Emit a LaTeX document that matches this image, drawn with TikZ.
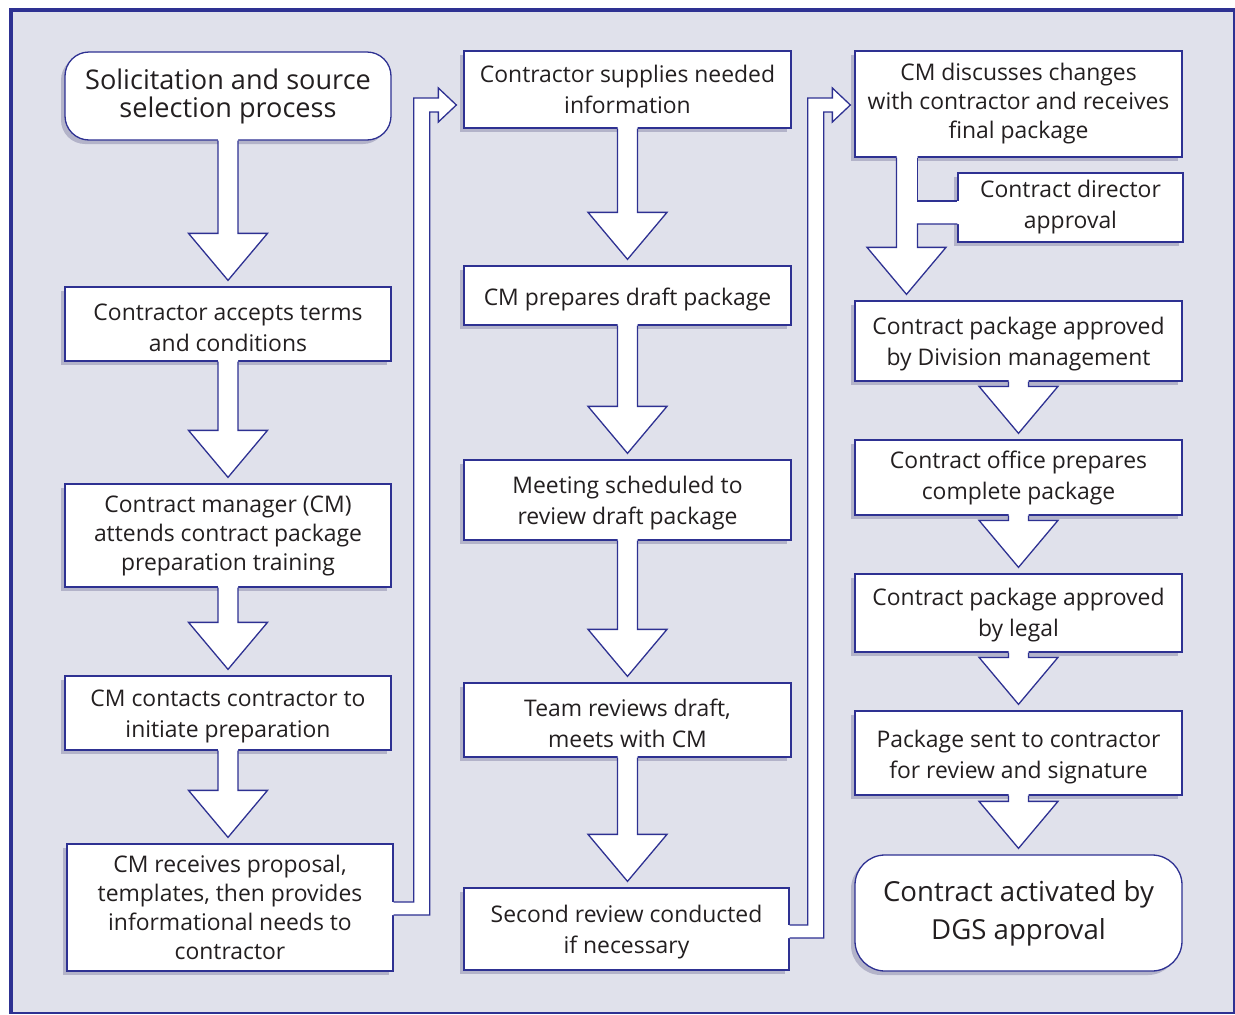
\documentclass[tikz,border=0pt]{standalone}
\usepackage{fontspec}
\setmainfont{Open Sans}
\usetikzlibrary{calc,shadows}
\definecolor{bgc}{HTML}{E0E1EB}
\definecolor{lineb}{HTML}{2E3192}
\definecolor{shadowc}{HTML}{B3B3C9}
\definecolor{txtc}{HTML}{231F20}
\pgfdeclarelayer{bgl}
\pgfdeclarelayer{shadow}
\pgfsetlayers{bgl,shadow,main}
\newcommand\boxstrut[1]{\rule{0pt}{#1}}
\tikzset{
  box/.style={draw=lineb, fill=white, line width=1.3pt, inner sep=2pt, align=center,
    text=txtc, font=\fontsize{22.9}{31}\selectfont,
    drop shadow={shadow xshift=-4pt, shadow yshift=-4pt, fill=shadowc, opacity=1}},
  tightbox/.style={box, font=\fontsize{22.9}{29}\selectfont},
  startbox/.style={box, rounded corners=24pt, font=\fontsize{27.1}{28}\selectfont},
  endbox/.style={box, rounded corners=30pt, font=\fontsize{27.6}{38}\selectfont},
  arrowline/.style={draw=lineb, line width=1.3pt},
}
\newcommand\downflow[2]{%
  \begin{pgfonlayer}{shadow}
    \fill[shadowc,shift={(-4,-4)}] let \p1=(#1.south), \p2=(#2.north) in
      (\x1-10,\y1) -- (\x1-10,\y2+53) -- (\x1-39.5,\y2+53) -- (\x1,\y2+6)
      -- (\x1+39.5,\y2+53) -- (\x1+10,\y2+53) -- (\x1+10,\y1) -- cycle;
  \end{pgfonlayer}
  \fill[white] let \p1=(#1.south), \p2=(#2.north) in
      (\x1-10,\y1+1.5) -- (\x1-10,\y2+53) -- (\x1-39.5,\y2+53) -- (\x1,\y2+6)
      -- (\x1+39.5,\y2+53) -- (\x1+10,\y2+53) -- (\x1+10,\y1+1.5) -- cycle;
  \draw[arrowline] let \p1=(#1.south), \p2=(#2.north) in
      (\x1-10,\y1) -- (\x1-10,\y2+53) -- (\x1-39.5,\y2+53) -- (\x1,\y2+6)
      -- (\x1+39.5,\y2+53) -- (\x1+10,\y2+53) -- (\x1+10,\y1);
}
\begin{document}
\begin{tikzpicture}[x=1pt,y=1pt]
\useasboundingbox (0,0) rectangle (1235,-1015);
\begin{pgfonlayer}{bgl}
  \fill[white] (0,0) rectangle (1235,-1015);
  \fill[bgc] (10,-9) rectangle (1234,-1013);
\end{pgfonlayer}
\draw[lineb, line width=2pt] (10,-9) rectangle (1234,-1013);
\draw[lineb, line width=2pt] (12,-9) -- (12,-1013);
\draw[lineb, line width=2pt] (10,-11) -- (1234,-11);

% column 1
\node[startbox, minimum width=326pt, minimum height=88pt] (s1) at (228,-96) {Solicitation and source\\selection process};
\node[box, minimum width=326pt, minimum height=74pt] (b2) at (228,-324) {\boxstrut{24.5pt}Contractor accepts terms\\and conditions};
\node[tightbox, minimum width=326pt, minimum height=103pt] (b3) at (228,-535.5) {Contract manager (CM)\\attends contract package\\preparation training};
\node[box, minimum width=326pt, minimum height=74pt] (b4) at (228,-713) {\boxstrut{22.7pt}CM contacts contractor to\\initiate preparation};
\node[tightbox, minimum width=326pt, minimum height=127pt] (b5) at (230,-907.5) {CM receives proposal,\\templates, then provides\\informational needs to\\contractor};
% column 2
\node[box, minimum width=327pt, minimum height=77pt] (c1) at (627.5,-89.5) {Contractor supplies needed\\information};
\node[box, minimum width=327pt, minimum height=59pt] (c2) at (627.5,-295.5) {\boxstrut{25.4pt}CM prepares draft package};
\node[box, minimum width=327pt, minimum height=80pt] (c3) at (627.5,-500) {\boxstrut{23.4pt}Meeting scheduled to\\review draft package};
\node[box, minimum width=327pt, minimum height=74pt] (c4) at (627.5,-720) {\boxstrut{23.4pt}Team reviews draft,\\meets with CM};
\node[box, minimum width=325pt, minimum height=82pt] (c5) at (626.5,-929) {\boxstrut{23.4pt}Second review conducted\\if necessary};
% column 3
\node[tightbox, minimum width=327pt, minimum height=106pt] (d1) at (1018.5,-104) {CM discusses changes\\with contractor and receives\\final package};
\node[box, minimum width=225pt, minimum height=69pt] (dd) at (1070.5,-207.5) {Contract director\\approval};
\node[box, minimum width=327pt, minimum height=80pt] (d2) at (1018.5,-341) {\boxstrut{24.4pt}Contract package approved\\by Division management};
\node[box, minimum width=327pt, minimum height=75pt] (d3) at (1018.5,-477.5) {Contract office prepares\\complete package};
\node[box, minimum width=327pt, minimum height=78pt] (d4) at (1018.5,-613) {\boxstrut{21.4pt}Contract package approved\\by legal};
\node[box, minimum width=327pt, minimum height=84pt] (d5) at (1018.5,-753) {\boxstrut{25.4pt}Package sent to contractor\\for review and signature};
\node[endbox, minimum width=327pt, minimum height=116pt] (d6) at (1018.5,-913) {Contract activated by\\DGS approval};

% straight block arrows
\downflow{s1}{b2}
\downflow{b2}{b3}
\downflow{b3}{b4}
\downflow{b4}{b5}
\downflow{c1}{c2}
\downflow{c2}{c3}
\downflow{c3}{c4}
\downflow{c4}{c5}
\downflow{d2}{d3}
\downflow{d3}{d4}
\downflow{d4}{d5}
\downflow{d5}{d6}

% arrow d1 -> d2 with branch to director approval
\begin{pgfonlayer}{shadow}
\fill[shadowc,shift={(-4,-4)}] let \p1=(d1.south), \p2=(d2.north), \p3=(dd.west) in
  (\x1-122,\y1) -- (\x1-122,\y2+53) -- (\x1-151.5,\y2+53) -- (\x1-112,\y2+6)
  -- (\x1-72.5,\y2+53) -- (\x1-101,\y2+53) -- (\x1-101,\y3-16.5) -- (\x3,\y3-16.5)
  -- (\x3,\y3+6.5) -- (\x1-101,\y3+6.5) -- (\x1-101,\y1) -- cycle;
\end{pgfonlayer}
\fill[white] let \p1=(d1.south), \p2=(d2.north), \p3=(dd.west) in
  (\x1-122,\y1+1.5) -- (\x1-122,\y2+53) -- (\x1-151.5,\y2+53) -- (\x1-112,\y2+6)
  -- (\x1-72.5,\y2+53) -- (\x1-101,\y2+53) -- (\x1-101,\y3-16.5) -- (\x3+1.5,\y3-16.5)
  -- (\x3+1.5,\y3+6.5) -- (\x1-101,\y3+6.5) -- (\x1-101,\y1+1.5) -- cycle;
\draw[arrowline] let \p1=(d1.south), \p3=(dd.west) in
  (\x1-101,\y1) -- (\x1-101,\y3+6.5) -- (\x3,\y3+6.5);
\draw[arrowline] let \p1=(d1.south), \p2=(d2.north), \p3=(dd.west) in
  (\x3,\y3-16.5) -- (\x1-101,\y3-16.5) -- (\x1-101,\y2+53) -- (\x1-72.5,\y2+53)
  -- (\x1-112,\y2+6) -- (\x1-151.5,\y2+53) -- (\x1-122,\y2+53) -- (\x1-122,\y1);

% connector b5 -> c1
\begin{pgfonlayer}{shadow}
\fill[shadowc,shift={(-4,-4)}] let \p1=(b5.east), \p2=(c1.west) in
  (\x1,\y1+5.5) -- (\x1+20,\y1+5.5) -- (\x1+20,\y2-8.5) -- (\x2-25,\y2-8.5)
  -- (\x2-25,\y2+1.5) -- (\x2-7,\y2-15.5) -- (\x2-25,\y2-32.5) -- (\x2-25,\y2-22.5)
  -- (\x1+36,\y2-22.5) -- (\x1+36,\y1-7.5) -- (\x1,\y1-7.5) -- cycle;
\end{pgfonlayer}
\fill[white] let \p1=(b5.east), \p2=(c1.west) in
  (\x1-1.5,\y1+5.5) -- (\x1+20,\y1+5.5) -- (\x1+20,\y2-8.5) -- (\x2-25,\y2-8.5)
  -- (\x2-25,\y2+1.5) -- (\x2-7,\y2-15.5) -- (\x2-25,\y2-32.5) -- (\x2-25,\y2-22.5)
  -- (\x1+36,\y2-22.5) -- (\x1+36,\y1-7.5) -- (\x1-1.5,\y1-7.5) -- cycle;
\draw[arrowline] let \p1=(b5.east), \p2=(c1.west) in
  (\x1,\y1+5.5) -- (\x1+20,\y1+5.5) -- (\x1+20,\y2-8.5) -- (\x2-25,\y2-8.5)
  -- (\x2-25,\y2+1.5) -- (\x2-7,\y2-15.5) -- (\x2-25,\y2-32.5) -- (\x2-25,\y2-22.5)
  -- (\x1+36,\y2-22.5) -- (\x1+36,\y1-7.5) -- (\x1,\y1-7.5);

% connector c5 -> d1
\begin{pgfonlayer}{shadow}
\fill[shadowc,shift={(-4,-4)}] let \p1=(c5.east), \p2=(d1.west) in
  (\x1,\y1+4) -- (\x1+18,\y1+4) -- (\x1+18,\y2+6) -- (\x2-22,\y2+6)
  -- (\x2-22,\y2+16) -- (\x2-4,\y2-1) -- (\x2-22,\y2-18) -- (\x2-22,\y2-8)
  -- (\x1+34,\y2-8) -- (\x1+34,\y1-9) -- (\x1,\y1-9) -- cycle;
\end{pgfonlayer}
\fill[white] let \p1=(c5.east), \p2=(d1.west) in
  (\x1-1.5,\y1+4) -- (\x1+18,\y1+4) -- (\x1+18,\y2+6) -- (\x2-22,\y2+6)
  -- (\x2-22,\y2+16) -- (\x2-4,\y2-1) -- (\x2-22,\y2-18) -- (\x2-22,\y2-8)
  -- (\x1+34,\y2-8) -- (\x1+34,\y1-9) -- (\x1-1.5,\y1-9) -- cycle;
\draw[arrowline] let \p1=(c5.east), \p2=(d1.west) in
  (\x1,\y1+4) -- (\x1+18,\y1+4) -- (\x1+18,\y2+6) -- (\x2-22,\y2+6)
  -- (\x2-22,\y2+16) -- (\x2-4,\y2-1) -- (\x2-22,\y2-18) -- (\x2-22,\y2-8)
  -- (\x1+34,\y2-8) -- (\x1+34,\y1-9) -- (\x1,\y1-9);
\end{tikzpicture}
\end{document}
